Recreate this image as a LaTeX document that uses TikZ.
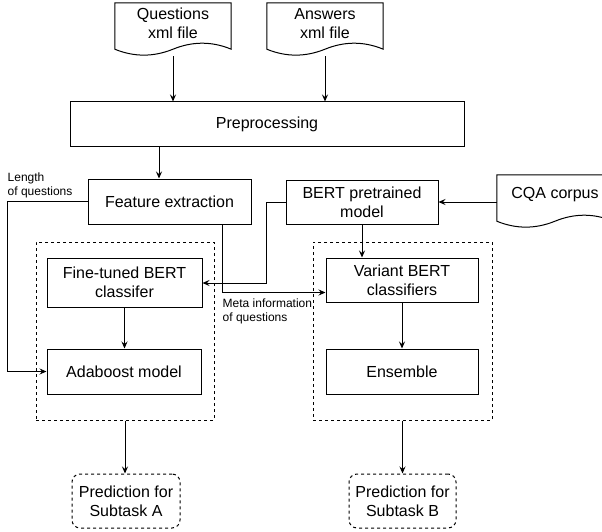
\documentclass[tikz,border=0pt]{standalone}
\usepackage{fontspec}
\setmainfont{Liberation Sans}
\usetikzlibrary{arrows.meta,positioning,calc}
\tikzset{
wire/.style = {draw, line width=1pt},
arrow/.style = {wire, -{Stealth[length=7pt,width=6pt,inset=2.5pt]}},
block/.style = {draw, line width=1pt, fill=white, rectangle, align=center, inner sep=0pt, font=\fontsize{16}{19}\selectfont},
docfile/.style = {rectangle, inner sep=0pt, minimum width=116pt, minimum height=53pt},
doctext/.style = {align=center, inner sep=0pt, font=\fontsize{16}{19}\selectfont},
group/.style = {draw, line width=1pt, dash pattern=on 3pt off 3pt, rectangle, inner sep=0pt},
result/.style = {block, dash pattern=on 3pt off 3pt, rounded corners=8pt},
note/.style = {align=left, inner sep=0pt, font=\fontsize{12}{14.5}\selectfont}
}
\newcommand{\docframe}[1]{%
  \draw[wire] (#1.north west) -- (#1.north east) -- ($(#1.north east)+(0,46.4)$)
    .. controls ($(#1.north east)+(-19.3,38.4)$) and ($(#1.north east)+(-38.7,38.4)$) .. ($(#1.north)+(0,46.4)$)
    .. controls ($(#1.north west)+(38.7,54.3)$) and ($(#1.north west)+(19.3,54.3)$) .. ($(#1.north west)+(0,46.4)$) -- cycle;}
\begin{document}
\begin{tikzpicture}[x=1pt, y=-1pt]
    \clip (0,0) rectangle (602,532);
    \node[group, minimum width=178pt, minimum height=178pt] (leftgrp) at (125,331) {};
    \node[group, minimum width=179pt, minimum height=178pt] (rightgrp) at (402.5,331) {};

    \node[docfile, label={[doctext, yshift=6pt]center:Questions\\xml file}] (qdoc) at (173,29.5) {};
    \node[docfile, label={[doctext, yshift=6pt]center:Answers\\xml file}] (adoc) at (325,29.5) {};
    \node[docfile, label={[doctext, yshift=6.5pt]center:CQA corpus}] (cqa) at (555,201.5) {};
    \docframe{qdoc}
    \docframe{adoc}
    \docframe{cqa}

    \node[block, minimum width=394pt, minimum height=44pt] (prep) at (267,124) {Preprocessing};
    \node[block, minimum width=163pt, minimum height=45pt] (feat) at (169.5,201.5) {Feature extraction};
    \node[block, minimum width=152pt, minimum height=44pt] (bert) at (362,202) {BERT pretrained\\model};
    \node[block, minimum width=155pt, minimum height=49pt] (fine) at (124.5,282.5) {Fine-tuned BERT\\classifer};
    \node[block, minimum width=154pt, minimum height=45pt] (ada) at (124,371.5) {Adaboost model};
    \node[block, minimum width=152pt, minimum height=44pt] (variant) at (402,280) {Variant BERT\\classifiers};
    \node[block, minimum width=152pt, minimum height=45pt] (ens) at (402,371.5) {Ensemble};
    \node[result, minimum width=108pt, minimum height=54pt] (predA) at (126,501) {Prediction for\\Subtask A};
    \node[result, minimum width=107pt, minimum height=54pt] (predB) at (402.5,501) {Prediction for\\Subtask B};

    \draw[arrow] (qdoc.south) -- (qdoc.south |- prep.north);
    \draw[arrow] (adoc.south) -- (adoc.south |- prep.north);
    \draw[arrow] ([xshift=-10.5pt]feat.north |- prep.south) -- ([xshift=-10.5pt]feat.north);
    \draw[arrow] (cqa.west |- bert.east) -- (bert.east);
    \draw[arrow] (feat.west) -- ++(-80,0) coordinate (lenbend) |- (ada.west);
    \draw[arrow] (bert.west) -- ++(-19,0) |- ([yshift=-0.5pt]fine.east);
    \draw[arrow] ([xshift=-29pt]feat.south east) -- ++(0,68) coordinate (metabend) -- (metabend -| variant.west);
    \draw[arrow] (bert.south) -- (bert.south |- variant.north);
    \draw[arrow] (fine.south) -- (fine.south |- ada.north);
    \draw[arrow] (variant.south) -- (variant.south |- ens.north);
    \draw[arrow] (leftgrp.south) -- (leftgrp.south |- predA.north);
    \draw[arrow] (rightgrp.south) -- (rightgrp.south |- predB.north);

    \node[note, anchor=south west] (lenlbl) at ([yshift=3pt]lenbend) {Length\\of questions};
    \node[note, anchor=north west] (metalbl) at ([yshift=-6pt]metabend) {Meta information\\of questions};
\end{tikzpicture}
\end{document}
